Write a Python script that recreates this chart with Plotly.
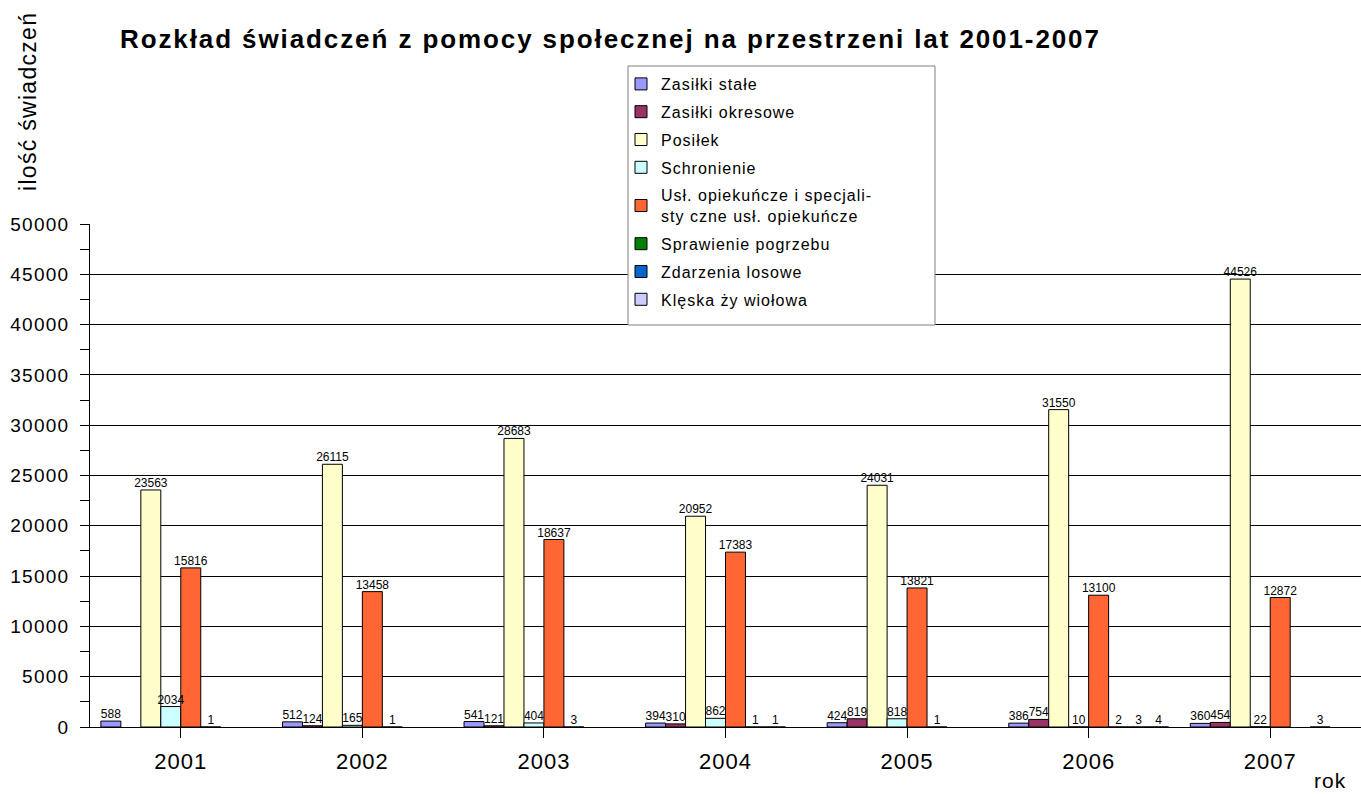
import plotly.graph_objects as go

years = ["2001", "2002", "2003", "2004", "2005", "2006", "2007"]

series_names = [
    "Zasiłki stałe",
    "Zasiłki okresowe",
    "Posiłek",
    "Schronienie",
    "Usł. opiekuńcze i specjali-<br>sty czne usł. opiekuńcze",
    "Sprawienie pogrzebu",
    "Zdarzenia losowe",
    "Klęska ży wiołowa",
]

zasilki_stale = [588, 512, 541, 394, 424, 386, 360]
zasilki_okresowe = [None, 124, 121, 310, 819, 754, 454]
posilek = [23563, 26115, 28683, 20952, 24031, 31550, 44526]
schronienie = [2034, 165, 404, 862, 818, 10, 22]
usl_opiekuncze = [15816, 13458, 18637, 17383, 13821, 13100, 12872]
sprawienie_pogrzebu = [1, 1, 3, 1, 1, 2, None]
zdarzenia_losowe = [None, None, None, 1, None, 3, 3]
kleska_zywiolowa = [None, None, None, None, None, 4, None]

series_values = [
    zasilki_stale, zasilki_okresowe, posilek, schronienie,
    usl_opiekuncze, sprawienie_pogrzebu, zdarzenia_losowe, kleska_zywiolowa,
]

colors = ["#9999FF", "#993366", "#FFFFCC", "#CCFFFF",
          "#FF6633", "#008000", "#0066CC", "#CCCCFF"]

y_ticks = [0, 5000, 10000, 15000, 20000, 25000, 30000, 35000, 40000, 45000, 50000]

FONT = "Liberation Sans, Arial, sans-serif"


def spaced(s, px):
    return f'<span style="letter-spacing:{px}px">{s}</span>'


# plot-area geometry in page pixels
L, R, T, B = 90, 1361, 224, 727
PW, PH = R - L, B - T


def px_x(x):
    return (x - L) / PW


def px_y(y):
    return (B - y) / PH


fig = go.Figure()
for i, (name, vals, col) in enumerate(zip(series_names, series_values, colors)):
    fig.add_trace(go.Bar(
        name=spaced(name, 1.0),
        legendgroup=f"g{i}",
        x=years,
        y=vals,
        marker=dict(color=col, line=dict(color="#000000", width=1)),
        hoverinfo="x+y+name",
    ))

# value labels drawn above all bars, grouped in the same slots as the bars
for i, vals in enumerate(series_values):
    fig.add_trace(go.Scatter(
        x=years,
        y=vals,
        mode="text",
        text=[("" if v is None else str(v)) for v in vals],
        textposition="top center",
        textfont=dict(family=FONT, size=12, color="#000000"),
        showlegend=False,
        hoverinfo="skip",
        cliponaxis=False,
    ))

fig.update_layout(
    width=1361,
    height=794,
    barmode="group",
    bargap=0.12,
    bargroupgap=0,
    scattermode="group",
    scattergap=0.12,
    plot_bgcolor="white",
    paper_bgcolor="white",
    margin=dict(l=L, r=1361 - R, t=T, b=794 - B),
    font=dict(family=FONT, color="#000000"),
    title=dict(
        text="<b>" + spaced("Rozkład świadczeń z pomocy społecznej na przestrzeni lat 2001-2007", 1.9) + "</b>",
        x=120 / 1361, xanchor="left",
        y=1 - 39 / 794, yanchor="middle",
        font=dict(family=FONT, size=26, color="#000000"),
    ),
    legend=dict(
        x=px_x(621), xanchor="left",
        y=px_y(67), yanchor="top",
        bgcolor="rgba(0,0,0,0)",
        borderwidth=0,
        font=dict(family=FONT, size=16, color="#000000"),
        tracegroupgap=4,
    ),
    showlegend=True,
    shapes=[dict(
        type="rect", xref="paper", yref="paper",
        x0=px_x(628), x1=px_x(935), y0=px_y(325), y1=px_y(66),
        fillcolor="white", line=dict(color="#808080", width=1),
        layer="above",
    )],
)

fig.update_xaxes(
    type="category",
    showline=True, linecolor="#000000", linewidth=1,
    ticks="outside", ticklen=10, tickcolor="#000000",
    tickvals=years,
    ticktext=[spaced(y, 1.0) for y in years],
    tickfont=dict(family=FONT, size=22, color="#000000"),
    ticklabelstandoff=5,
    showgrid=False,
)

fig.update_yaxes(
    range=[0, 50000],
    tickvals=y_ticks,
    ticktext=[spaced(v, 1.2) for v in y_ticks],
    showline=True, linecolor="#000000", linewidth=1,
    ticks="outside", ticklen=9, tickcolor="#000000",
    tickfont=dict(family=FONT, size=19, color="#000000"),
    ticklabelstandoff=7,
    showgrid=True, gridcolor="#000000", gridwidth=1,
    zeroline=False,
    minor=dict(dtick=2500, ticks="outside", ticklen=9, tickcolor="#000000", showgrid=False),
)

fig.add_annotation(
    text=spaced("ilość świadczeń", 1.3),
    xref="paper", yref="paper",
    x=px_x(28), y=px_y(102),
    xanchor="center", yanchor="middle",
    textangle=-90, showarrow=False,
    font=dict(family=FONT, size=23, color="#000000"),
)
fig.add_annotation(
    text=spaced("rok", 1.0),
    xref="paper", yref="paper",
    x=px_x(1330), y=px_y(780),
    xanchor="center", yanchor="middle",
    showarrow=False,
    font=dict(family=FONT, size=21, color="#000000"),
)

fig.write_html(
    "out.html",
    config={"displayModeBar": False},
    post_script="document.body.style.margin='0';",
)
